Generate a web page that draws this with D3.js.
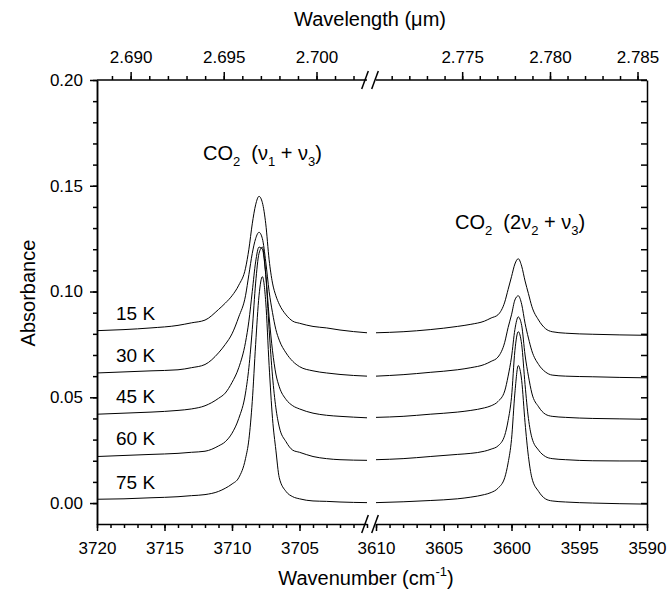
<!DOCTYPE html>
<html>
<head>
<meta charset="utf-8">
<script src="https://cdn.jsdelivr.net/npm/d3@7/dist/d3.min.js"></script>
<style>
body { margin: 0; background: #fff; }
svg text { font-family: "Liberation Sans", Arial, sans-serif; fill: #000; }
.axis path, .axis line { stroke: #000; stroke-width: 1.5; }
.trace { fill: none; stroke: #000; stroke-width: 1; }
</style>
</head>
<body>
<svg id="chart" width="667" height="589"></svg>
<script>
// Wavenumber sampling (cm-1) for the two axis segments
var leftWn = [3720, 3718, 3716, 3714, 3713, 3712, 3711, 3710.5, 3710, 3709.5, 3709,
    3708.75, 3708.5, 3708.25, 3708, 3707.75, 3707.5, 3707.25, 3707, 3706.75, 3706.5,
    3706, 3705.5, 3705, 3704, 3703, 3702, 3700];
var rightWn = [3610, 3608, 3606, 3604, 3603, 3602, 3601.5, 3601, 3600.5, 3600.25, 3600,
    3599.75, 3599.5, 3599.25, 3599, 3598.75, 3598.5, 3598, 3597.5, 3597, 3596, 3594,
    3592, 3590];

var temps = ["15 K", "30 K", "45 K", "60 K", "75 K"];

// absorbance, nu1+nu3 band (left segment)
var k15Left = [0.0815, 0.082, 0.0828, 0.084, 0.0852, 0.0865, 0.0915, 0.0945, 0.098, 0.103, 0.111,
    0.120, 0.132, 0.141, 0.145, 0.142, 0.132, 0.115, 0.104, 0.098, 0.094,
    0.089, 0.086, 0.085, 0.0835, 0.0828, 0.0818, 0.0805];
var k30Left = [0.0615, 0.062, 0.0625, 0.063, 0.064, 0.0655, 0.071, 0.075, 0.080, 0.088, 0.098,
    0.108, 0.118, 0.125, 0.128, 0.125, 0.114, 0.100, 0.090, 0.082, 0.077,
    0.071, 0.067, 0.0645, 0.0625, 0.0615, 0.0608, 0.060];
var k45Left = [0.042, 0.0425, 0.043, 0.0438, 0.0445, 0.046, 0.0495, 0.052, 0.057, 0.064, 0.076,
    0.086, 0.100, 0.114, 0.121, 0.120, 0.108, 0.088, 0.072, 0.061, 0.055,
    0.049, 0.046, 0.0445, 0.0425, 0.0415, 0.041, 0.0403];
var k60Left = [0.022, 0.0225, 0.023, 0.0235, 0.024, 0.0245, 0.027, 0.029, 0.033, 0.040, 0.052,
    0.064, 0.082, 0.104, 0.118, 0.121, 0.108, 0.082, 0.060, 0.045, 0.036,
    0.029, 0.025, 0.024, 0.022, 0.021, 0.0205, 0.0202];
var k75Left = [0.0018, 0.002, 0.0025, 0.003, 0.0035, 0.004, 0.0055, 0.007, 0.009, 0.012, 0.021,
    0.030, 0.048, 0.075, 0.098, 0.107, 0.095, 0.065, 0.040, 0.025, 0.012,
    0.0055, 0.003, 0.002, 0.001, 0.0008, 0.0005, 0.0002];

// absorbance, 2nu2+nu3 band (right segment)
var k15Right = [0.0805, 0.081, 0.082, 0.0835, 0.0845, 0.086, 0.0875, 0.089, 0.095, 0.101, 0.107,
    0.113, 0.1155, 0.112, 0.105, 0.099, 0.093, 0.0865, 0.0825, 0.081, 0.0803, 0.0798,
    0.0795, 0.0793];
var k30Right = [0.060, 0.0607, 0.0618, 0.063, 0.064, 0.0655, 0.067, 0.069, 0.076, 0.083, 0.089,
    0.096, 0.098, 0.094, 0.085, 0.078, 0.072, 0.0655, 0.062, 0.0605, 0.060, 0.0597,
    0.0594, 0.0592];
var k45Right = [0.0405, 0.041, 0.042, 0.043, 0.0438, 0.045, 0.046, 0.048, 0.053, 0.060, 0.069,
    0.082, 0.088, 0.084, 0.070, 0.060, 0.052, 0.0455, 0.042, 0.041, 0.0405, 0.040,
    0.0398, 0.0396];
var k60Right = [0.0205, 0.021, 0.022, 0.023, 0.0235, 0.0245, 0.0255, 0.027, 0.032, 0.039, 0.050,
    0.072, 0.081, 0.075, 0.056, 0.040, 0.031, 0.025, 0.022, 0.021, 0.0205, 0.020,
    0.0199, 0.0199];
var k75Right = [0.0002, 0.0006, 0.0012, 0.002, 0.0028, 0.004, 0.005, 0.007, 0.012, 0.019, 0.030,
    0.052, 0.065, 0.058, 0.038, 0.022, 0.012, 0.0055, 0.002, 0.001, 0.0005, 0.0,
    -0.0003, -0.0005];

var wnMajorLeft = [3720, 3715, 3710, 3705];
var wnMajorRight = [3610, 3605, 3600, 3595, 3590];
var wlMajor = [2.690, 2.695, 2.700, 2.775, 2.780, 2.785];
var absMajor = [0.00, 0.05, 0.10, 0.15, 0.20];

var leftSeries = [k15Left, k30Left, k45Left, k60Left, k75Left];
var rightSeries = [k15Right, k30Right, k45Right, k60Right, k75Right];

var svg = d3.select("#chart");

var xL = d3.scaleLinear().domain([3720, 3700]).range([97, 367]);
var xR = d3.scaleLinear().domain([3610, 3590]).range([376, 647]);
var y = d3.scaleLinear().domain([-0.0099, 0.20]).range([524, 80]);
var yTop = y(0.20), yBottom = y.range()[0];

// wavelength (um) -> pixel, through the wavenumber scales
function xWl(l) {
    var wn = 1e4 / l;
    return wn >= 3700 ? xL(wn) : xR(wn);
}

// ---- traces
function drawTraces(x, grid, series) {
    var line = d3.line()
        .x(function(d) { return x(d[0]); })
        .y(function(d) { return y(d[1]); })
        .curve(d3.curveMonotoneX);
    series.forEach(function(vals) {
        svg.append("path")
            .attr("class", "trace")
            .attr("d", line(grid.map(function(w, i) { return [w, vals[i]]; })));
    });
}
drawTraces(xL, leftWn, leftSeries);
drawTraces(xR, rightWn, rightSeries);

// ---- bottom axis (two segments)
function bottomAxis(x, majors) {
    var g = svg.append("g").attr("class", "axis")
        .attr("transform", "translate(0," + yBottom + ")");
    g.call(d3.axisBottom(x).tickValues(d3.range(x.domain()[0], x.domain()[1] - 0.5, -1))
        .tickSize(4).tickSizeOuter(0).tickFormat(""));
    var g2 = svg.append("g").attr("class", "axis")
        .attr("transform", "translate(0," + yBottom + ")");
    g2.call(d3.axisBottom(x).tickValues(majors).tickSize(7).tickSizeOuter(0).tickPadding(11)
        .tickFormat(d3.format("d")));
    g2.select(".domain").remove();
    g2.selectAll("text").style("font-size", "17px");
}
bottomAxis(xL, wnMajorLeft);
bottomAxis(xR, wnMajorRight);

// ---- top axis (wavelength), ticks placed through the wavenumber scales
var topG = svg.append("g").attr("class", "axis");
[[xL, 3720, 3700], [xR, 3610, 3590]].forEach(function(s) {
    topG.append("line").attr("x1", s[0](s[1])).attr("x2", s[0](s[2]))
        .attr("y1", yTop).attr("y2", yTop);
});
var wlMinor = d3.range(2689, 2703).concat(d3.range(2771, 2786)).map(function(v) { return v / 1000; });
topG.selectAll(".minor").data(wlMinor).enter().append("line")
    .attr("class", "minor")
    .attr("x1", xWl).attr("x2", xWl)
    .attr("y1", yTop).attr("y2", yTop - 4);
topG.selectAll(".major").data(wlMajor).enter().append("line")
    .attr("class", "major")
    .attr("x1", xWl).attr("x2", xWl)
    .attr("y1", yTop).attr("y2", yTop - 8);
topG.selectAll("text").data(wlMajor).enter().append("text")
    .attr("x", xWl).attr("y", yTop - 17)
    .attr("text-anchor", "middle")
    .style("font-size", "17px")
    .text(d3.format(".3f"));

// ---- left / right axes
svg.append("g").attr("class", "axis")
    .attr("transform", "translate(97,0)")
    .call(d3.axisLeft(y).tickValues(d3.range(0, 0.2001, 0.01)).tickSize(4).tickSizeOuter(0).tickFormat(""));
var yl = svg.append("g").attr("class", "axis")
    .attr("transform", "translate(97,0)")
    .call(d3.axisLeft(y).tickValues(absMajor).tickSize(7).tickSizeOuter(0).tickPadding(7)
        .tickFormat(d3.format(".2f")));
yl.selectAll("text").style("font-size", "17px");
svg.append("g").attr("class", "axis")
    .attr("transform", "translate(647,0)")
    .call(d3.axisRight(y).tickValues(d3.range(0, 0.2001, 0.01)).tickSize(-6).tickSizeOuter(0).tickFormat(""));

// ---- axis breaks
[yTop, yBottom].forEach(function(yy) {
    [xL(3700) - 2, xR(3610) - 1].forEach(function(xx) {
        svg.append("line")
            .attr("x1", xx - 3.3).attr("y1", yy + 9)
            .attr("x2", xx + 3.3).attr("y2", yy - 9)
            .attr("stroke", "#000").attr("stroke-width", 1.5);
    });
});

// ---- titles
svg.append("text").attr("x", 370).attr("y", 26)
    .attr("text-anchor", "middle").style("font-size", "20px")
    .text("Wavelength (\u03bcm)");

var xt = svg.append("text").attr("x", 366).attr("y", 585)
    .attr("text-anchor", "middle").style("font-size", "20px");
xt.append("tspan").text("Wavenumber (cm");
xt.append("tspan").attr("dy", -9).style("font-size", "13px").text("-1");
xt.append("tspan").attr("dy", 9).text(")");

svg.append("text")
    .attr("transform", "translate(35,293) rotate(-90)")
    .attr("text-anchor", "middle").style("font-size", "20px")
    .text("Absorbance");

// ---- temperature labels, just above each trace's start
svg.selectAll(".tlabel").data(temps).enter().append("text")
    .attr("class", "tlabel")
    .attr("x", 116)
    .attr("y", function(d, i) { return y(leftSeries[i][1]) - 10; })
    .style("font-size", "19px")
    .text(function(d) { return d; });

// ---- band annotations
function bandLabel(x0, y0, parts) {
    var t = svg.append("text").attr("x", x0).attr("y", y0)
        .style("font-size", "20px").style("white-space", "pre");
    var shift = 0;
    parts.forEach(function(p) {
        var sub = p[1];
        var dy = sub ? 6 - shift : -shift;
        shift = sub ? 6 : 0;
        t.append("tspan").attr("dy", dy)
            .style("font-size", sub ? "13px" : "20px")
            .text(p[0]);
    });
}
bandLabel(203, 160, [["CO"], ["2", 1], ["  (\u03bd"], ["1", 1], [" + \u03bd"], ["3", 1], [")"]]);
bandLabel(455, 229, [["CO"], ["2", 1], ["  (2\u03bd"], ["2", 1], [" + \u03bd"], ["3", 1], [")"]]);
</script>
</body>
</html>
